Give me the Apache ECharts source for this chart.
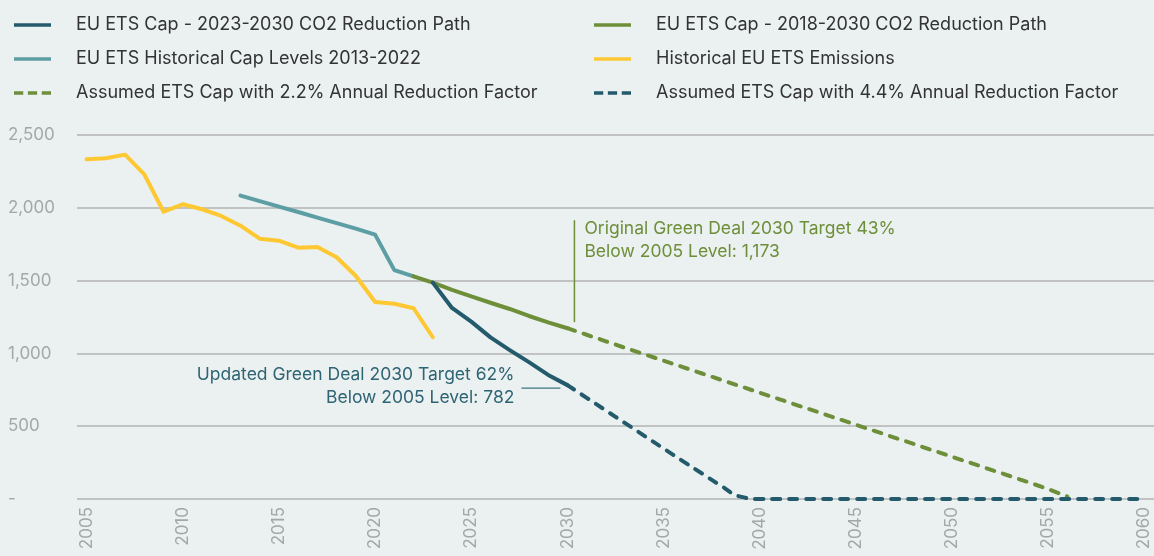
<!DOCTYPE html>
<html>
<head>
<meta charset="utf-8">
<script src="https://cdn.jsdelivr.net/npm/echarts@6/dist/echarts.min.js"></script>
<style>
  html, body { margin: 0; padding: 0; background: #ebf0f0; }
  #chart { width: 1154px; height: 556px; }
</style>
</head>
<body>
<div id="chart"></div>
<script>
// ---- Data ----
var years = ['2005','2006','2007','2008','2009','2010','2011','2012','2013','2014',
  '2015','2016','2017','2018','2019','2020','2021','2022','2023','2024',
  '2025','2026','2027','2028','2029','2030','2031','2032','2033','2034',
  '2035','2036','2037','2038','2039','2040','2041','2042','2043','2044',
  '2045','2046','2047','2048','2049','2050','2051','2052','2053','2054',
  '2055','2056','2057','2058','2059','2060'];

// Historical EU ETS Emissions, 2005-2023
var emissions = [2333, 2340, 2365, 2230, 1973, 2024, 1990, 1944, 1877, 1788,
  1774, 1726, 1731, 1660, 1532, 1353, 1341, 1310, 1111];
// EU ETS Historical Cap Levels, 2013-2022
var histCap = [2084, 2046, 2008, 1971, 1933, 1895, 1857, 1816, 1572, 1529];
// EU ETS Cap - 2018-2030 CO2 Reduction Path, 2022-2030
var cap2018 = [1529, 1486, 1436, 1392, 1348, 1305, 1257, 1213, 1173];
// EU ETS Cap - 2023-2030 CO2 Reduction Path, 2023-2030
var cap2023 = [1486, 1312, 1218, 1110, 1023, 940, 852, 782];
// Assumed ETS Cap with 2.2% Annual Reduction Factor, 2030-2056
var cap22 = [1173, 1128, 1083, 1038, 994, 950, 906, 862, 818, 774,
  730, 686, 642, 598, 554, 510, 466, 422, 378, 334,
  290, 246, 202, 158, 114, 68, 16];
// Assumed ETS Cap with 4.4% Annual Reduction Factor, 2030-2060
var cap44 = [782, 695, 608, 521, 434, 347, 260, 175, 90, 16,
  0, 0, 0, 0, 0, 0, 0, 0, 0, 0,
  0, 0, 0, 0, 0, 0, 0, 0, 0, 0, 0];

var names = {
  c23: 'EU ETS Cap - 2023-2030 CO2 Reduction Path',
  c18: 'EU ETS Cap - 2018-2030 CO2 Reduction Path',
  hc: 'EU ETS Historical Cap Levels 2013-2022',
  em: 'Historical EU ETS Emissions',
  a22: 'Assumed ETS Cap with 2.2% Annual Reduction Factor',
  a44: 'Assumed ETS Cap with 4.4% Annual Reduction Factor'
};

var annGreen = ['Original Green Deal 2030 Target 43%', 'Below 2005 Level: 1,173'];
var annBlue = ['Updated Green Deal 2030 Target 62%', 'Below 2005 Level: 782'];

var C = {
  dark: '#235b6c',
  teal: '#5c9ea3',
  green: '#6e8f3a',
  yellow: '#fec832',
  grid: '#b3b5b5',
  label: '#a5a7a7',
  text: '#333333'
};

function pad(startYear, arr) {
  var out = [];
  var s = years.indexOf(String(startYear));
  for (var i = 0; i < years.length; i++) {
    var k = i - s;
    out.push(k >= 0 && k < arr.length ? arr[k] : null);
  }
  return out;
}

var FONT = 'Inter';
var ICON_SOLID = 'path://M0,0L40,0L40,4L0,4Z';
var ICON_DASH = 'path://M0,0L10,0L10,4L0,4Z M15,0L25,0L25,4L15,4Z M30,0L40,0L40,4L30,4Z';

var chart = echarts.init(document.getElementById('chart'), null, { renderer: 'canvas' });

function lineSeries(name, data, color, dashed, z, smooth) {
  return {
    name: name,
    type: 'line',
    data: data,
    symbol: 'none',
    smooth: smooth || false,
    z: z,
    connectNulls: false,
    lineStyle: {
      color: color,
      width: 4,
      type: dashed ? [8, 9] : 'solid',
      cap: 'round',
      join: 'round'
    },
    itemStyle: { color: color },
    emphasis: { disabled: true },
    animation: false
  };
}

var legendCommon = {
  orient: 'vertical',
  padding: 0,
  itemWidth: 37,
  itemHeight: 4,
  itemGap: 16,
  selectedMode: false,
  textStyle: {
    fontFamily: FONT,
    fontSize: 18,
    color: C.text,
    padding: [0, 0, 0, 20]
  }
};

var option = {
  backgroundColor: '#ebf0f0',
  animation: false,
  grid: { left: 77, top: 135, width: 1078.5, bottom: 57, containLabel: false },
  legend: [
    Object.assign({}, legendCommon, { left: 14, top: 16, data: [
      { name: names.c23, icon: ICON_SOLID },
      { name: names.hc, icon: ICON_SOLID },
      { name: names.a22, icon: ICON_DASH }
    ] }),
    Object.assign({}, legendCommon, { left: 594, top: 16, data: [
      { name: names.c18, icon: ICON_SOLID },
      { name: names.em, icon: ICON_SOLID },
      { name: names.a44, icon: ICON_DASH }
    ] })
  ],
  xAxis: {
    type: 'category',
    data: years,
    boundaryGap: true,
    axisLine: { show: false },
    axisTick: { show: false },
    axisLabel: {
      interval: 4,
      rotate: 90,
      margin: 8,
      color: C.label,
      fontFamily: FONT,
      fontSize: 17
    },
    splitLine: { show: false }
  },
  yAxis: {
    type: 'value',
    min: 0,
    max: 2500,
    interval: 500,
    axisLine: { show: false },
    axisTick: { show: false },
    axisLabel: {
      align: 'left',
      margin: 69,
      color: C.label,
      fontFamily: FONT,
      fontSize: 17,
      formatter: function (v) {
        if (v === 0) return '-';
        return v.toLocaleString('en-US');
      }
    },
    splitLine: { lineStyle: { color: C.grid, width: 1.5 } }
  },
  series: [
    lineSeries(names.em, pad(2005, emissions), C.yellow, false, 2),
    lineSeries(names.hc, pad(2013, histCap), C.teal, false, 3),
    lineSeries(names.c18, pad(2022, cap2018), C.green, false, 4),
    lineSeries(names.c23, pad(2023, cap2023), C.dark, false, 5),
    lineSeries(names.a22, pad(2030, cap22), C.green, true, 6),
    lineSeries(names.a44, pad(2030, cap44), C.dark, true, 7, 0.5)
  ]
};

chart.setOption(option);

// Annotations anchored at the 2030 data points
var pG = chart.convertToPixel({ xAxisIndex: 0, yAxisIndex: 0 }, ['2030', cap2018[cap2018.length - 1]]);
var pB = chart.convertToPixel({ xAxisIndex: 0, yAxisIndex: 0 }, ['2030', cap2023[cap2023.length - 1]]);

chart.setOption({
  graphic: [
    {
      type: 'line', silent: true,
      shape: { x1: pG[0] + 7, y1: pG[1] - 108, x2: pG[0] + 7, y2: pG[1] - 6 },
      style: { stroke: C.green, lineWidth: 1.5 }
    },
    {
      type: 'text', silent: true, x: pG[0] + 17, y: pG[1] - 111,
      style: { text: annGreen.join('\n'), fill: C.green, font: '17.5px ' + FONT, lineHeight: 23, textAlign: 'left', textVerticalAlign: 'top' }
    },
    {
      type: 'line', silent: true,
      shape: { x1: pB[0] - 46, y1: pB[1] + 3, x2: pB[0] - 7, y2: pB[1] + 3 },
      style: { stroke: '#3f7585', lineWidth: 1.2 }
    },
    {
      type: 'text', silent: true, x: pB[0] - 53, y: pB[1] - 22,
      style: { text: annBlue.join('\n'), fill: '#2e6474', font: '17.5px ' + FONT, lineHeight: 23, textAlign: 'right', textVerticalAlign: 'top' }
    }
  ]
});
</script>
</body>
</html>
